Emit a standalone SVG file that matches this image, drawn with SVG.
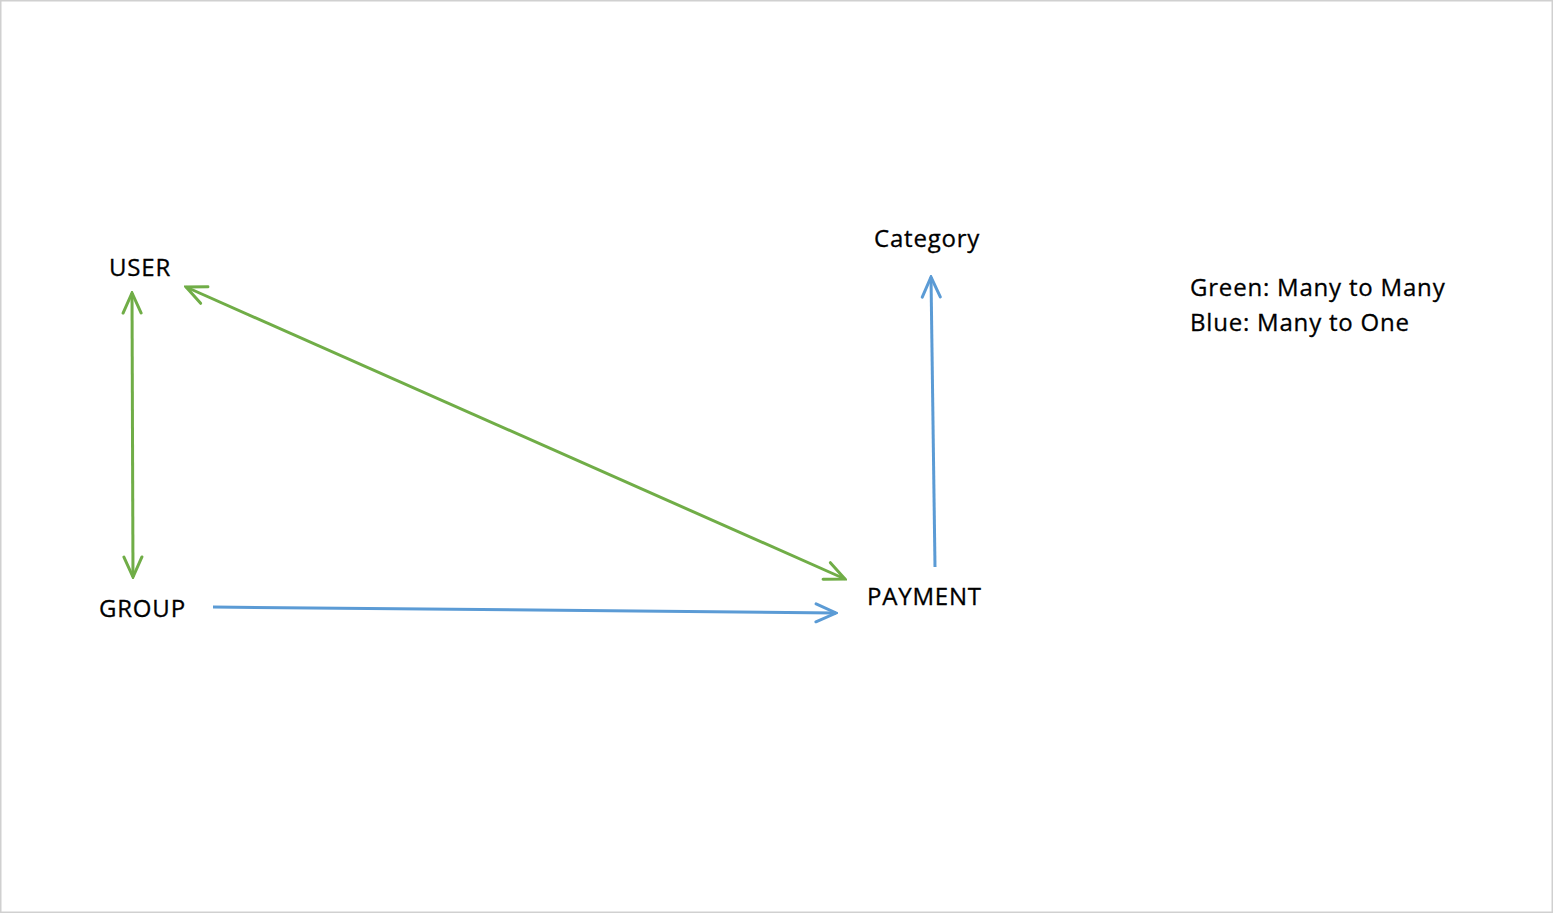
<svg xmlns="http://www.w3.org/2000/svg" width="1554" height="915" viewBox="0 0 1554 915">
  <style>
    .label { font-family: "Open Sans", Lato, "Liberation Sans", sans-serif; font-size: 24px; letter-spacing: 0.8px; fill: #000000; stroke: #000000; stroke-width: 0.3px; }
    .green { stroke: #70AD47; stroke-width: 3; fill: none; }
    .blue { stroke: #5B9BD5; stroke-width: 3; fill: none; }
  </style>
  <defs>
    <marker id="arrow-green" viewBox="-22 -11 24 22" refX="0" refY="0" markerWidth="24" markerHeight="22" markerUnits="userSpaceOnUse" orient="auto-start-reverse">
      <path d="M -20 -9 L 0 0 L -20 9" fill="none" stroke="#70AD47" stroke-width="3" stroke-linecap="round" stroke-linejoin="miter"/>
    </marker>
    <marker id="arrow-blue" viewBox="-22 -11 24 22" refX="0" refY="0" markerWidth="24" markerHeight="22" markerUnits="userSpaceOnUse" orient="auto-start-reverse">
      <path d="M -20 -9 L 0 0 L -20 9" fill="none" stroke="#5B9BD5" stroke-width="3" stroke-linecap="round" stroke-linejoin="miter"/>
    </marker>
  </defs>

  <rect x="0" y="0" width="1554" height="915" fill="#ffffff"/>
  <rect x="0.75" y="0.75" width="1551.5" height="911.5" fill="none" stroke="#d0d0d0" stroke-width="1.5"/>

  <g id="connectors">
    <line class="green" x1="132" y1="293" x2="133" y2="577" marker-start="url(#arrow-green)" marker-end="url(#arrow-green)"/>
    <line class="green" x1="186" y1="287" x2="845" y2="579" marker-start="url(#arrow-green)" marker-end="url(#arrow-green)"/>
    <line class="blue" x1="213" y1="607" x2="836" y2="613" marker-end="url(#arrow-blue)"/>
    <line class="blue" x1="935" y1="567" x2="931" y2="277" marker-end="url(#arrow-blue)"/>
  </g>

  <g id="node-user">
    <text class="label" x="109" y="276">USER</text>
  </g>
  <g id="node-group">
    <text class="label" x="99" y="617">GROUP</text>
  </g>
  <g id="node-payment">
    <text class="label" x="867" y="605">PAYMENT</text>
  </g>
  <g id="node-category">
    <text class="label" x="874" y="247">Category</text>
  </g>
  <g id="legend">
    <text class="label" x="1190" y="296">Green: Many to Many</text>
    <text class="label" x="1190" y="331">Blue: Many to One</text>
  </g>
</svg>
